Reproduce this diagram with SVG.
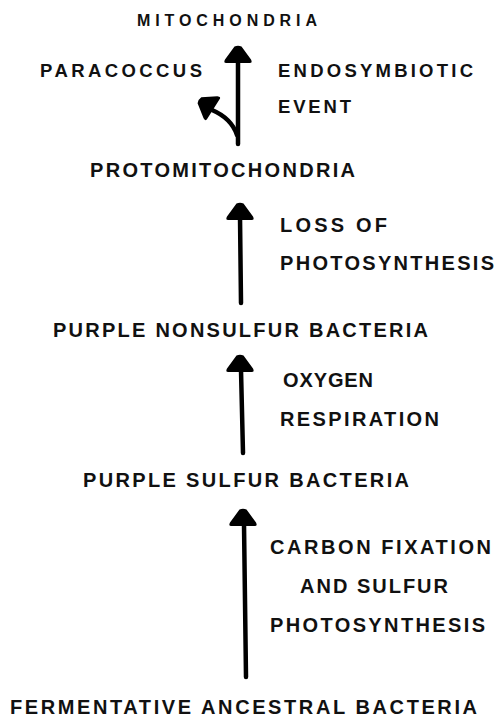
<svg xmlns="http://www.w3.org/2000/svg" xmlns:xlink="http://www.w3.org/1999/xlink" width="496" height="717" viewBox="0 0 496 717">
<style>
  text { font-family: "Liberation Sans", Arial, Helvetica, sans-serif; font-weight: bold; font-size: 20px; fill: #111; }
  .small { font-size: 16px; }
  .mid { font-size: 18.5px; }
  .shaft { stroke: #000; stroke-width: 4.5; stroke-linecap: round; fill: none; }
  .head { fill: #000; }
</style>
<defs>
  <path id="ah" class="head" d="M -3.5,0.5 Q 0,-1 3.5,0.5 L 13,13.5 Q 15,17.5 11,17 L -11,17 Q -15,17.5 -13,13.5 Z"/>
</defs>
<rect width="496" height="717" fill="#fff"/>
<g id="connectors">
  <g id="arrow-endosymbiosis">
    <line class="shaft" x1="238" y1="60" x2="238" y2="144"/>
    <use xlink:href="#ah" href="#ah" transform="translate(238,46)"/>
  </g>
  <g id="arrow-paracoccus">
    <path class="shaft" d="M 237,135 C 234,126 226,116 212,110"/>
    <use xlink:href="#ah" href="#ah" transform="translate(199,100) rotate(-58)"/>
  </g>
  <g id="arrow-loss">
    <line class="shaft" x1="240" y1="216" x2="241" y2="303"/>
    <use xlink:href="#ah" href="#ah" transform="translate(240,203)"/>
  </g>
  <g id="arrow-oxygen">
    <line class="shaft" x1="241" y1="370" x2="243" y2="453"/>
    <use xlink:href="#ah" href="#ah" transform="translate(240,355)"/>
  </g>
  <g id="arrow-carbon">
    <line class="shaft" x1="244" y1="524" x2="246" y2="677"/>
    <use xlink:href="#ah" href="#ah" transform="translate(243,509)"/>
  </g>
</g>
<g id="node-mitochondria"><text class="small" x="137" y="26" textLength="180" lengthAdjust="spacing">MITOCHONDRIA</text></g>
<g id="node-paracoccus"><text class="mid" x="40" y="77" textLength="162" lengthAdjust="spacing">PARACOCCUS</text></g>
<g id="label-endosymbiotic">
  <text class="mid" x="278" y="77" textLength="195" lengthAdjust="spacing">ENDOSYMBIOTIC</text>
  <text class="mid" x="278" y="113" textLength="73" lengthAdjust="spacing">EVENT</text>
</g>
<g id="node-protomitochondria"><text x="90" y="177" textLength="265" lengthAdjust="spacing">PROTOMITOCHONDRIA</text></g>
<g id="label-loss">
  <text x="280" y="232" textLength="107" lengthAdjust="spacing">LOSS OF</text>
  <text x="280" y="270" textLength="214" lengthAdjust="spacing">PHOTOSYNTHESIS</text>
</g>
<g id="node-purple-nonsulfur"><text x="53" y="337" textLength="375" lengthAdjust="spacing">PURPLE NONSULFUR BACTERIA</text></g>
<g id="label-oxygen">
  <text x="283" y="387" textLength="90" lengthAdjust="spacing">OXYGEN</text>
  <text x="280" y="426" textLength="159" lengthAdjust="spacing">RESPIRATION</text>
</g>
<g id="node-purple-sulfur"><text x="83" y="487" textLength="326" lengthAdjust="spacing">PURPLE SULFUR BACTERIA</text></g>
<g id="label-carbon">
  <text x="270" y="554" textLength="221" lengthAdjust="spacing">CARBON FIXATION</text>
  <text x="300" y="593" textLength="148" lengthAdjust="spacing">AND SULFUR</text>
  <text x="270" y="632" textLength="215" lengthAdjust="spacing">PHOTOSYNTHESIS</text>
</g>
<g id="node-fermentative"><text x="10" y="714" textLength="467" lengthAdjust="spacing">FERMENTATIVE ANCESTRAL BACTERIA</text></g>
</svg>
